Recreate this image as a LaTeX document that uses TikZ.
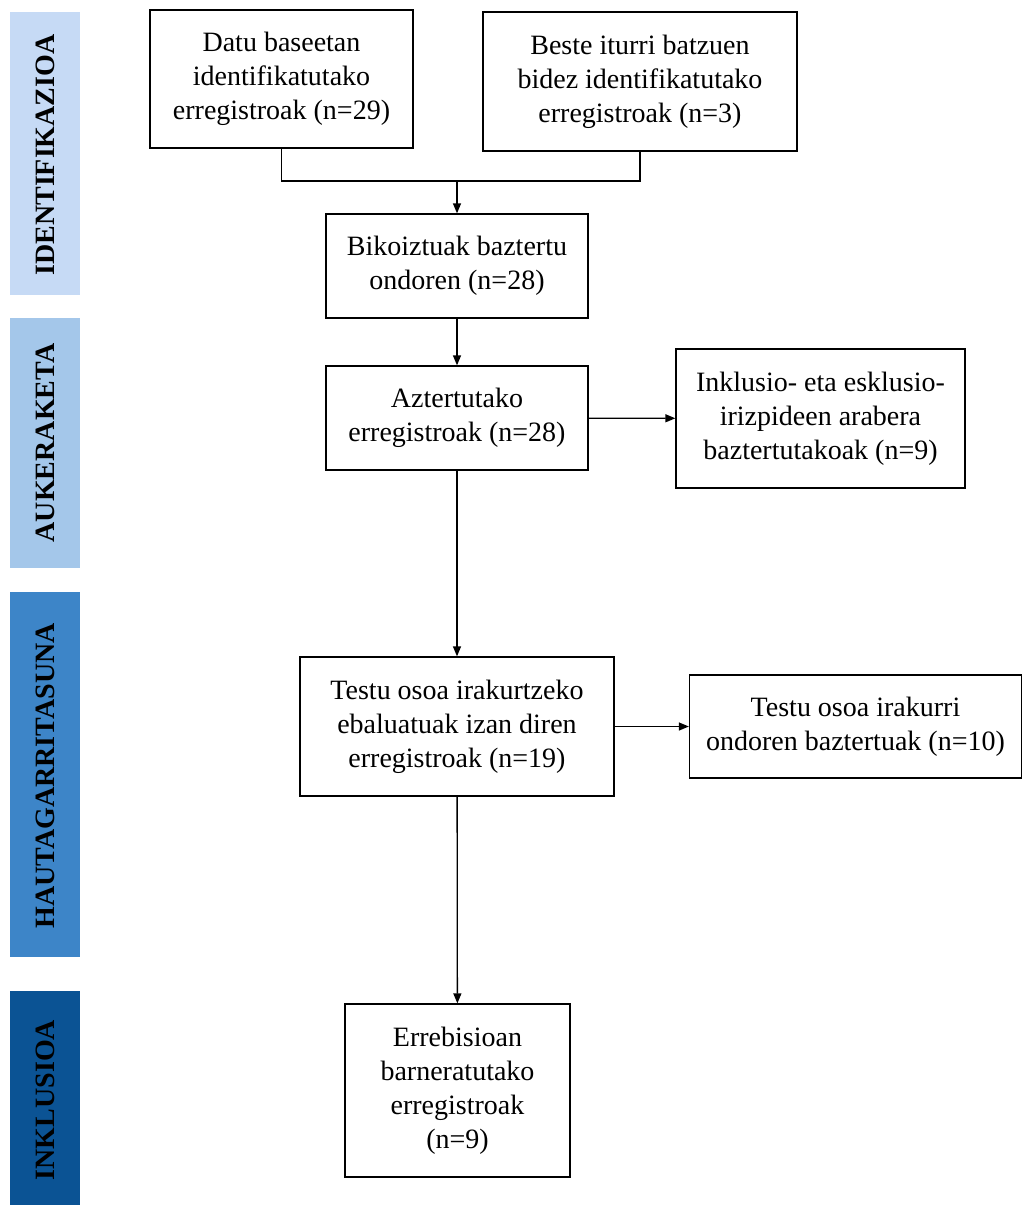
\documentclass[tikz,border=0pt]{standalone}
\usepackage{fontspec}
\setmainfont{Liberation Serif}
\usetikzlibrary{arrows.meta}
\definecolor{cA}{HTML}{C6DAF5}
\definecolor{cB}{HTML}{A4C7EA}
\definecolor{cC}{HTML}{3D85C8}
\definecolor{cD}{HTML}{0B5394}
\begin{document}
\begin{tikzpicture}[x=1pt,y=-1pt,
  box/.style={draw,line width=1.3pt,align=center,inner sep=0pt,
    font=\fontsize{28}{34}\selectfont},
  conn/.style={line width=1.3pt},
  arr/.style={line width=1.3pt,-{Triangle[length=10pt,width=8pt]}},
  phase/.style={inner sep=0pt,font=\fontsize{28}{32}\selectfont\bfseries}]
\useasboundingbox (0,0) rectangle (1022,1205);
% phase bars
\fill[cA] (10,12) rectangle (80,295);
\fill[cB] (10,318) rectangle (80,568);
\fill[cC] (10,592) rectangle (80,957);
\fill[cD] (10,991) rectangle (80,1205);
\node[phase,rotate=90] (p1) at (45,155) {IDENTIFIKAZIOA};
\node[phase,rotate=90] (p2) at (45,443) {AUKERAKETA};
\node[phase,rotate=90] (p3) at (45,776) {HAUTAGARRITASUNA};
\node[phase,rotate=90] (p4) at (45,1100) {INKLUSIOA};
% boxes
\node[box,minimum width=263pt,minimum height=138pt] (b1) at (281.5,79) {Datu baseetan\\identifikatutako\\erregistroak (n=29)};
\node[box,minimum width=314pt,minimum height=139pt] (b2) at (640,81.5) {Beste iturri batzuen\\bidez identifikatutako\\erregistroak (n=3)};
\node[box,minimum width=262pt,minimum height=104pt] (b3) at (457,266) {Bikoiztuak baztertu\\ondoren (n=28)};
\node[box,minimum width=262pt,minimum height=104pt] (b4) at (457,418) {Aztertutako\\erregistroak (n=28)};
\node[box,minimum width=289pt,minimum height=139pt] (b5) at (820.5,418.5) {Inklusio- eta esklusio-\\irizpideen arabera\\baztertutakoak (n=9)};
\node[box,minimum width=314pt,minimum height=139pt] (b6) at (457,726.5) {Testu osoa irakurtzeko\\ebaluatuak izan diren\\erregistroak (n=19)};
\node[box,minimum width=332pt,minimum height=103pt] (b7) at (855.5,726.5) {Testu osoa irakurri\\ondoren baztertuak (n=10)};
\node[box,minimum width=225pt,minimum height=173pt] (b8) at (457.5,1090.5) {Errebisioan\\barneratutako\\erregistroak\\(n=9)};
% connectors
\coordinate (j) at (457,181);
\draw[conn] (b1.south) -- (b1.south |- j) -- (b2.south |- j) -- (b2.south);
\draw[arr] (j) -- (b3.north);
\draw[arr] (b3) -- (b4);
\draw[arr] (b4) -- (b5);
\draw[arr] (b4) -- (b6);
\draw[arr] (b6) -- (b7);
\draw[arr] (b6) -- (b8);
\end{tikzpicture}
\end{document}
